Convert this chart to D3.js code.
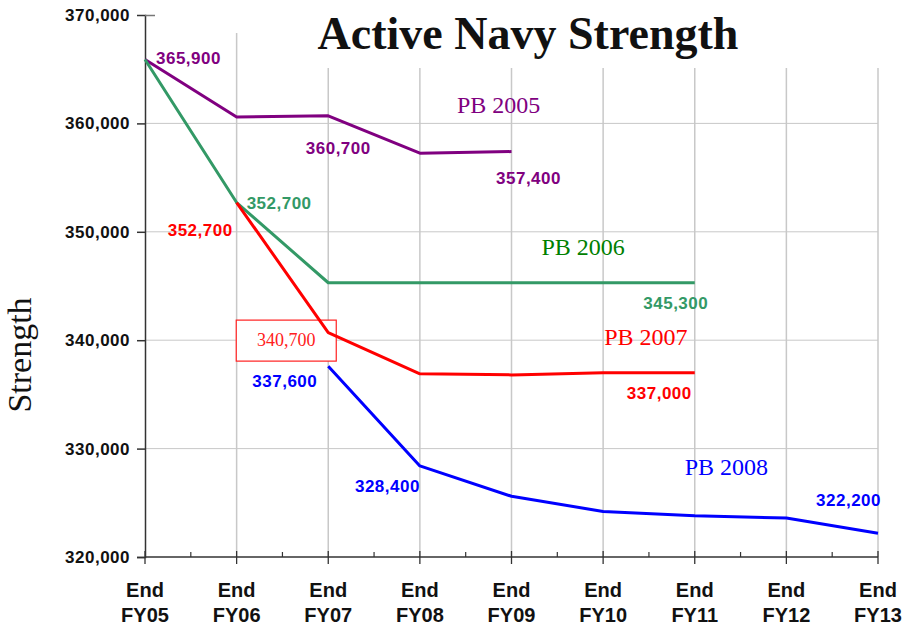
<!DOCTYPE html>
<html>
<head>
<meta charset="utf-8">
<script src="https://cdn.jsdelivr.net/npm/d3@7"></script>
<style>
  body { margin: 0; background: #fff; }
  text { font-family: "Liberation Sans", Arial, sans-serif; }
  .serif { font-family: "Liberation Serif", "Times New Roman", serif; }
</style>
</head>
<body>
<svg id="chart"></svg>
<script>
const categories = ["FY05", "FY06", "FY07", "FY08", "FY09", "FY10", "FY11", "FY12", "FY13"];
const yTicks = [320000, 330000, 340000, 350000, 360000, 370000];

// each budget starts at a different fiscal year
const pb2005 = [365900, 360600, 360700, 357250, 357400];            // FY05..FY09
const pb2006 = [365900, 352700, 345300, 345300, 345300, 345300, 345300]; // FY05..FY11
const pb2007 = [352700, 340700, 336900, 336800, 337000, 337000];     // FY06..FY11
const pb2008 = [337600, 328400, 325600, 324200, 323800, 323600, 322200]; // FY07..FY13

const series = [
  { name: "PB 2005", start: 0, values: pb2005, color: "#800080", labelColor: "#800080" },
  { name: "PB 2006", start: 0, values: pb2006, color: "#339966", labelColor: "#008000" },
  { name: "PB 2007", start: 1, values: pb2007, color: "#ff0000", labelColor: "#ff0000" },
  { name: "PB 2008", start: 2, values: pb2008, color: "#0000ff", labelColor: "#0000ff" }
];

// value labels: series index, point index, text offsets
const valueLabels = [
  { s: 0, i: 0, dx: 11, dy: 5, anchor: "start" },
  { s: 0, i: 2, dx: 10, dy: 38, anchor: "middle" },
  { s: 0, i: 4, dx: 17, dy: 32, anchor: "middle" },
  { s: 1, i: 1, dx: 10, dy: 6, anchor: "start" },
  { s: 2, i: 0, dx: -4, dy: 33, anchor: "end" },
  { s: 3, i: 0, dx: -11, dy: 21, anchor: "end" },
  { s: 1, i: 6, dx: -19, dy: 26, anchor: "middle" },
  { s: 2, i: 5, dx: -3, dy: 26, anchor: "end" },
  { s: 3, i: 1, dx: 0, dy: 26, anchor: "end" },
  { s: 3, i: 6, dx: 3, dy: -27, anchor: "end" }
];

// series name labels (category position + pixel offset)
const nameLabels = [
  { s: 0, cat: "FY08", dx: 37, y: 113 },
  { s: 1, cat: "FY09", dx: 30, y: 255 },
  { s: 2, cat: "FY10", dx: 1, y: 345 },
  { s: 3, cat: "FY11", dx: -10, y: 475 }
];

const width = 905, height = 628;
const plotLeft = 145, plotRight = 878, plotTop = 15, plotBottom = 557;

const svg = d3.select("#chart").attr("width", width).attr("height", height);
svg.append("rect").attr("width", width).attr("height", height).attr("fill", "#fff");

const x = d3.scalePoint().domain(categories).range([plotLeft, plotRight]);
const y = d3.scaleLinear().domain([320000, 370000]).range([plotBottom, plotTop]);
const fmt = d3.format(",");

// grid
svg.append("g").selectAll("line")
  .data(categories.slice(1))
  .join("line")
  .attr("x1", d => x(d)).attr("x2", d => x(d))
  .attr("y1", 33).attr("y2", plotBottom)
  .attr("stroke", "#c8c8c8").attr("stroke-width", 1.5);

svg.append("g").selectAll("line")
  .data(yTicks.slice(1, -1))
  .join("line")
  .attr("x1", plotLeft).attr("x2", plotRight)
  .attr("y1", d => y(d)).attr("y2", d => y(d))
  .attr("stroke", "#c8c8c8").attr("stroke-width", 1);

// title panel hides the top of the grid
svg.append("rect").attr("x", 300).attr("y", 0).attr("width", 605).attr("height", 68).attr("fill", "#fff");
svg.append("text")
  .attr("class", "serif")
  .attr("x", 528).attr("y", 49)
  .attr("text-anchor", "middle")
  .attr("font-size", 46).attr("font-weight", "bold")
  .attr("fill", "#111")
  .text("Active Navy Strength");

// boxed callout for PB 2007 FY07
const boxPt = { x: x(categories[2]), y: y(pb2007[1]) };
svg.append("rect")
  .attr("x", boxPt.x - 92).attr("y", boxPt.y - 12.5)
  .attr("width", 100).attr("height", 41)
  .attr("fill", "#fff").attr("stroke", "#ff2020").attr("stroke-width", 1.2);
svg.append("text")
  .attr("class", "serif")
  .attr("x", boxPt.x - 42).attr("y", boxPt.y + 13.5)
  .attr("text-anchor", "middle")
  .attr("font-size", 18).attr("fill", "#ff2020")
  .text(fmt(pb2007[1]));

// axes
const yAxis = svg.append("g")
  .attr("transform", `translate(${plotLeft},0)`)
  .call(d3.axisLeft(y).tickValues(yTicks).tickFormat(fmt).tickSize(8).tickPadding(7));
yAxis.select(".domain").attr("stroke", "#333").attr("stroke-width", 1.5);
yAxis.selectAll(".tick line").attr("stroke", "#333").attr("stroke-width", 1.5);
yAxis.selectAll(".tick").filter(d => d === 370000).select("line")
  .attr("x2", 10).attr("stroke", "#777");
yAxis.selectAll(".tick text")
  .attr("font-family", "Liberation Sans, Arial, sans-serif")
  .attr("font-size", 17).attr("font-weight", "bold")
  .attr("letter-spacing", 0.5).attr("fill", "#111");

const xAxis = svg.append("g").attr("transform", `translate(0,${plotBottom})`);
xAxis.append("line").attr("x1", plotLeft).attr("x2", plotRight).attr("stroke", "#333").attr("stroke-width", 1.5);
xAxis.selectAll(".major")
  .data(categories)
  .join("line")
  .attr("x1", d => x(d)).attr("x2", d => x(d))
  .attr("y1", -6).attr("y2", 7)
  .attr("stroke", "#333").attr("stroke-width", 1.3);
xAxis.selectAll(".minor")
  .data(categories.slice(1))
  .join("line")
  .attr("x1", (d, i) => (x(d) + x(categories[i])) / 2)
  .attr("x2", (d, i) => (x(d) + x(categories[i])) / 2)
  .attr("y1", -5).attr("y2", 0)
  .attr("stroke", "#333").attr("stroke-width", 1.2);
const xl = xAxis.selectAll(".xl")
  .data(categories)
  .join("text")
  .attr("text-anchor", "middle")
  .attr("font-size", 20).attr("font-weight", "bold").attr("fill", "#111");
xl.append("tspan").attr("x", d => x(d)).attr("y", 40).text("End");
xl.append("tspan").attr("x", d => x(d)).attr("y", 65).text(d => d);

// y title
svg.append("text")
  .attr("class", "serif")
  .attr("transform", "translate(31,355) rotate(-90)")
  .attr("text-anchor", "middle")
  .attr("font-size", 34).attr("fill", "#111")
  .text("Strength");

// lines
const line = d3.line()
  .x(d => x(d.cat))
  .y(d => y(d.v));

series.forEach(s => {
  s.points = s.values.map((v, i) => ({ cat: categories[s.start + i], v }));
  svg.append("path")
    .datum(s.points)
    .attr("fill", "none")
    .attr("stroke", s.color)
    .attr("stroke-width", 3)
    .attr("stroke-linejoin", "round")
    .attr("d", line);
});

// value labels
svg.append("g").selectAll("text")
  .data(valueLabels)
  .join("text")
  .attr("x", d => x(series[d.s].points[d.i].cat) + d.dx)
  .attr("y", d => y(series[d.s].points[d.i].v) + d.dy)
  .attr("text-anchor", d => d.anchor)
  .attr("font-size", 17).attr("font-weight", "bold").attr("letter-spacing", 0.5)
  .attr("fill", d => series[d.s].color)
  .text(d => fmt(series[d.s].points[d.i].v));

// series names
svg.append("g").selectAll("text")
  .data(nameLabels)
  .join("text")
  .attr("class", "serif")
  .attr("x", d => x(d.cat) + d.dx)
  .attr("y", d => d.y)
  .attr("font-size", 24)
  .attr("fill", d => series[d.s].labelColor)
  .text(d => series[d.s].name);
</script>
</body>
</html>
